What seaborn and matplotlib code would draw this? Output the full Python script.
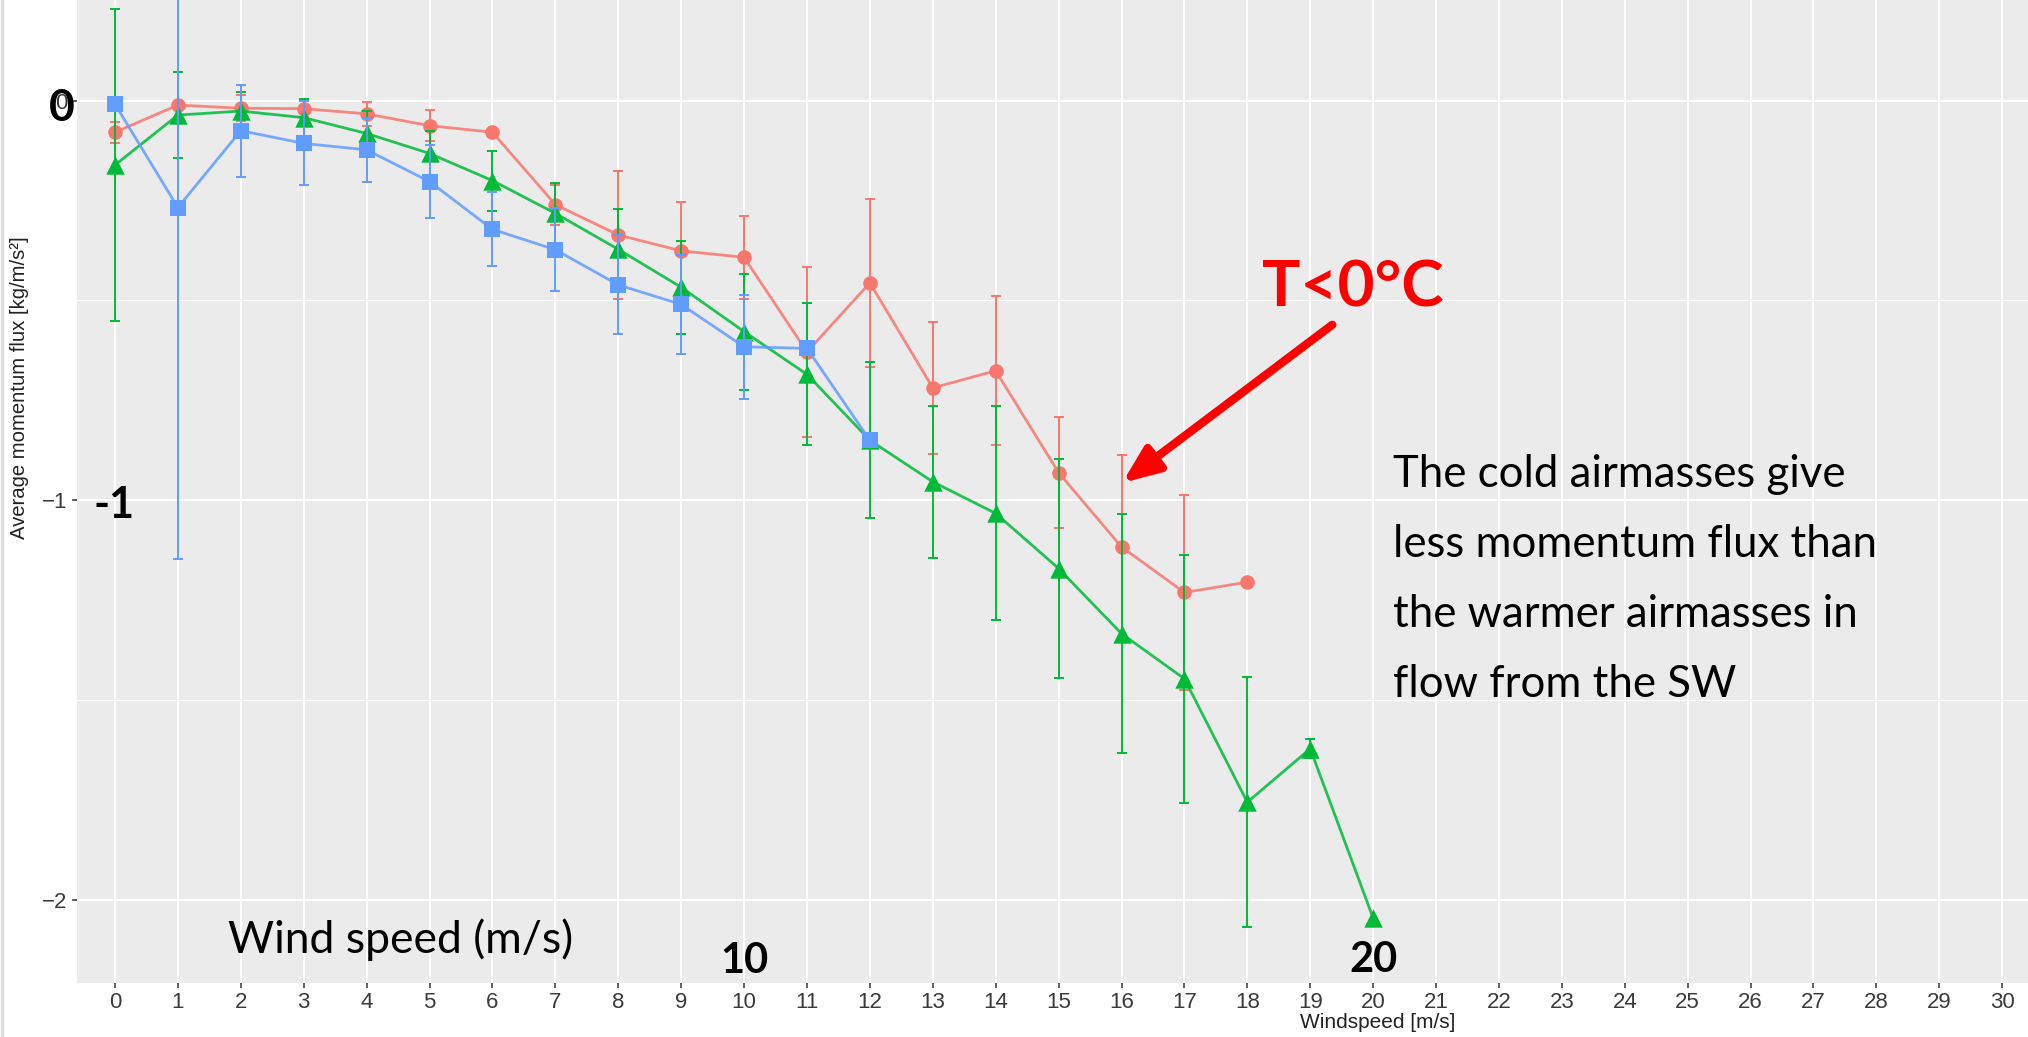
import numpy as np
import pandas as pd
import matplotlib
matplotlib.use("Agg")
import matplotlib.pyplot as plt
import seaborn as sns
from matplotlib.lines import Line2D
from matplotlib.ticker import FixedLocator

# ---------------- data ----------------
wind_ticks = list(range(31))

red_x = list(range(19))
red_y = [-0.079, -0.011, -0.019, -0.020, -0.033, -0.0625, -0.079, -0.260, -0.336,
         -0.376, -0.392, -0.629, -0.456, -0.719, -0.676, -0.931, -1.117, -1.231, -1.205]
red_err = [0.026, 0.008, 0.033, 0.02, 0.03, 0.038, 0.005, 0.05, 0.16,
           0.122, 0.104, 0.212, 0.21, 0.165, 0.186, 0.138, 0.23, 0.245, 0.0]

green_x = list(range(21))
green_y = [-0.161, -0.036, -0.026, -0.0425, -0.082, -0.132, -0.200, -0.282, -0.372,
           -0.467, -0.578, -0.685, -0.850, -0.954, -1.033, -1.171, -1.334, -1.447,
           -1.756, -1.622, -2.046]
green_err = [0.39, 0.108, 0.047, 0.047, 0.056, 0.056, 0.075, 0.075, 0.10, 0.117,
             0.145, 0.178, 0.195, 0.19, 0.268, 0.274, 0.30, 0.31, 0.313, 0.023, 0.0]

blue_x = list(range(13))
blue_y = [-0.009, -0.2675, -0.075, -0.107, -0.123, -0.2025, -0.322, -0.373, -0.461,
          -0.510, -0.616, -0.620, -0.850]
blue_err = [0.0, 0.88, 0.115, 0.105, 0.08, 0.092, 0.093, 0.104, 0.124, 0.124,
            0.13, 0.0, 0.0]

# ---------------- style ----------------
sns.set_theme(style="darkgrid", rc={
    "axes.facecolor": "#EBEBEB",
    "figure.facecolor": "white",
    "grid.color": "white",
    "xtick.bottom": True,
    "ytick.left": True,
    "xtick.major.size": 3.6,
    "ytick.major.size": 3.6,
    "xtick.major.width": 1.1,
    "ytick.major.width": 1.1,
    "xtick.color": "#333333",
    "ytick.color": "#333333",
    "xtick.major.pad": 3.2,
    "ytick.major.pad": 3.2,
})
plt.rcParams['font.family'] = ['Liberation Sans', 'DejaVu Sans']

W, H = 2028, 1037
fig = plt.figure(figsize=(W / 100, H / 100), dpi=100)
ax_left, ax_bottom_px, ax_top_px = 77, 983, 0
ax = fig.add_axes([ax_left / W, (H - ax_bottom_px) / H, (W - ax_left) / W, (ax_bottom_px - ax_top_px) / H])
for s in ax.spines.values():
    s.set_visible(False)

series = [
    ("red", red_x, red_y, red_err, "#F8766D", "o", 110, 2),
    ("green", green_x, green_y, green_err, "#00BA38", "^", 175, 3),
    ("blue", blue_x, blue_y, blue_err, "#619CFF", "s", 125, 4),
]

for name, xs, ys, errs, col, mk, sz, z in series:
    df = pd.DataFrame({"x": xs, "y": ys, "err": errs})
    sns.lineplot(data=df, x="x", y="y", ax=ax, color=col, lw=2.0, alpha=0.85,
                 errorbar=None, legend=False, zorder=z)
    de = df[df["err"] > 0]
    ax.errorbar(de["x"], de["y"], yerr=de["err"], fmt="none", ecolor=col,
                elinewidth=1.4, capsize=3.6, capthick=1.4, zorder=z)
    sns.scatterplot(data=df, x="x", y="y", ax=ax, color=col, marker=mk, s=sz,
                    linewidth=0, legend=False, zorder=z + 0.5)

ax.set_xlim(-0.604, 30.41)
ax.set_ylim(-2.2085, 0.252)
ax.set_xticks(wind_ticks)
ax.set_xticklabels([str(t) for t in wind_ticks])
ax.set_yticks([0, -1, -2])
ax.yaxis.set_minor_locator(FixedLocator([-0.5, -1.5]))
ax.grid(which="major", axis="both", color="white", lw=1.5)
ax.grid(which="minor", axis="y", color="white", lw=0.8)
ax.tick_params(which="minor", length=0)
ax.tick_params(axis="both", which="major", labelsize=16, labelcolor="#3a3a3a")

ax.set_xlabel("Windspeed [m/s]", fontsize=15, color="#222222")
ax.xaxis.set_label_coords((1378 - ax_left) / (W - ax_left), (ax_bottom_px - 1022) / ax_bottom_px)
ax.xaxis.label.set_va("center")
ax.set_ylabel("Average momentum flux [kg/m/s²]", fontsize=14.6, color="#222222")
ax.yaxis.set_label_coords((20 - ax_left) / (W - ax_left), (ax_bottom_px - 388) / ax_bottom_px)
ax.yaxis.label.set_va("center")

# ---------------- overlay annotations ----------------
ann_font = ["Lato", "DejaVu Sans"]
ax.text(18.235, -0.516, "T<0°C", color="#FF0000", fontsize=46, fontweight="bold",
        family=ann_font, ha="left", va="baseline", zorder=10)
ax.annotate("", xy=(16.01, -0.957), xytext=(19.35, -0.561),
            arrowprops=dict(arrowstyle="-|>,head_length=1.1,head_width=0.45",
                            color="#FF0000", lw=6, mutation_scale=20,
                            shrinkA=0, shrinkB=0), zorder=10)

body_lines = ["The cold airmasses give", "less momentum flux than",
              "the warmer airmasses in", "flow from the SW"]
for i, line in enumerate(body_lines):
    base_px = 487 + 70 * i
    ax.text(20.32, -(base_px - 100.7) / 399.5, line, color="black", fontsize=31.5,
            family=ann_font, ha="left", va="baseline", zorder=10)

ax.text(1.797, -2.133, "Wind speed (m/s)", color="black", fontsize=32,
        family=ann_font, ha="left", va="baseline", zorder=10)
ax.text(10, -2.184, "10", color="black", fontsize=30, fontweight="bold",
        family=ann_font, ha="center", va="baseline", zorder=10)
ax.text(20, -2.182, "20", color="black", fontsize=30, fontweight="bold",
        family=ann_font, ha="center", va="baseline", zorder=10)
ax.text(-0.02, -1.045, "-1", color="black", fontsize=31, fontweight="bold",
        family=ann_font, ha="center", va="baseline", zorder=10)
ax.text(-0.85, -0.051, "0", color="black", fontsize=32, fontweight="bold",
        family=ann_font, ha="center", va="baseline", zorder=10, clip_on=False)

fig.add_artist(Line2D([1.5 / W, 1.5 / W], [0, 1], color="#DDDDDD", lw=2.5))

fig.savefig("out.png", dpi=100)
